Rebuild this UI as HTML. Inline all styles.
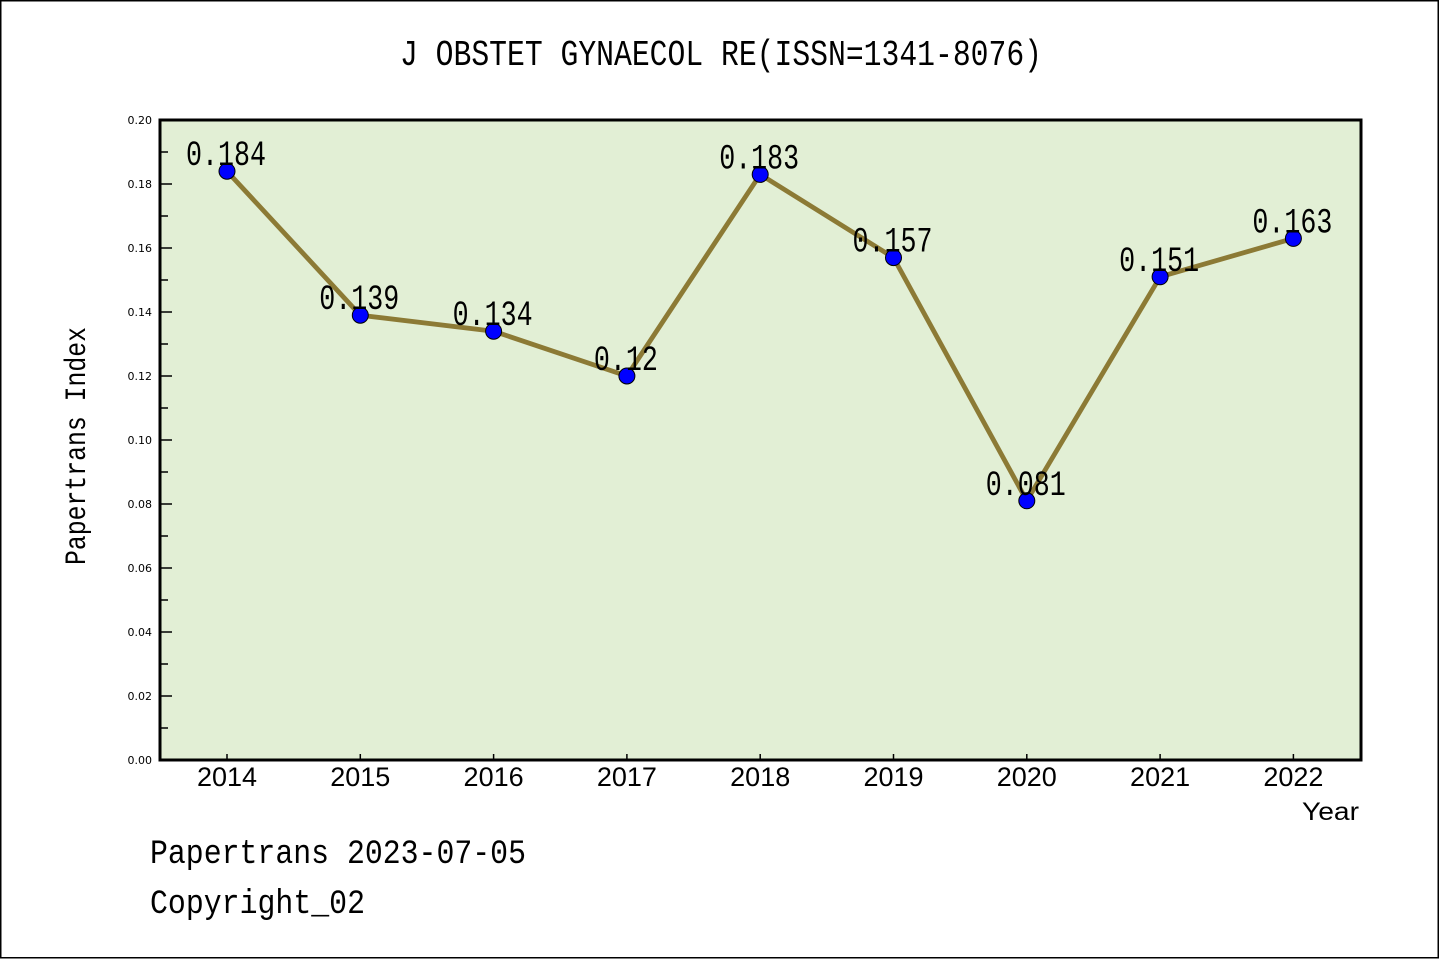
<!DOCTYPE html>
<html>
<head>
<meta charset="utf-8">
<style>
html,body{margin:0;padding:0;background:#fff;}
svg{display:block;}
</style>
</head>
<body>
<svg width="1440" height="960" viewBox="0 0 1440 960" xmlns="http://www.w3.org/2000/svg">
<rect x="0" y="0" width="1440" height="960" fill="#ffffff"/>
<rect x="0.75" y="0.75" width="1437.5" height="957" fill="none" stroke="#000" stroke-width="1.5"/>

<!-- title -->
<text x="400" y="65" font-family="Liberation Mono, monospace" font-size="36" textLength="642" lengthAdjust="spacingAndGlyphs" fill="#000">J OBSTET GYNAECOL RE(ISSN=1341-8076)</text>

<!-- plot background -->
<rect x="160" y="120" width="1201" height="640" fill="#e2efd5"/>

<!-- y ticks major -->
<g stroke="#000" stroke-width="1.5">
<line x1="160" y1="760" x2="172" y2="760"/>
<line x1="160" y1="696" x2="172" y2="696"/>
<line x1="160" y1="632" x2="172" y2="632"/>
<line x1="160" y1="568" x2="172" y2="568"/>
<line x1="160" y1="504" x2="172" y2="504"/>
<line x1="160" y1="440" x2="172" y2="440"/>
<line x1="160" y1="376" x2="172" y2="376"/>
<line x1="160" y1="312" x2="172" y2="312"/>
<line x1="160" y1="248" x2="172" y2="248"/>
<line x1="160" y1="184" x2="172" y2="184"/>
<line x1="160" y1="120" x2="172" y2="120"/>
<!-- minor -->
<line x1="160" y1="728" x2="168" y2="728"/>
<line x1="160" y1="664" x2="168" y2="664"/>
<line x1="160" y1="600" x2="168" y2="600"/>
<line x1="160" y1="536" x2="168" y2="536"/>
<line x1="160" y1="472" x2="168" y2="472"/>
<line x1="160" y1="408" x2="168" y2="408"/>
<line x1="160" y1="344" x2="168" y2="344"/>
<line x1="160" y1="280" x2="168" y2="280"/>
<line x1="160" y1="216" x2="168" y2="216"/>
<line x1="160" y1="152" x2="168" y2="152"/>
<!-- x ticks -->
<line x1="227" y1="760" x2="227" y2="754"/>
<line x1="360.3" y1="760" x2="360.3" y2="754"/>
<line x1="493.6" y1="760" x2="493.6" y2="754"/>
<line x1="626.9" y1="760" x2="626.9" y2="754"/>
<line x1="760.2" y1="760" x2="760.2" y2="754"/>
<line x1="893.5" y1="760" x2="893.5" y2="754"/>
<line x1="1026.8" y1="760" x2="1026.8" y2="754"/>
<line x1="1160.1" y1="760" x2="1160.1" y2="754"/>
<line x1="1293.4" y1="760" x2="1293.4" y2="754"/>
</g>

<!-- y tick labels -->
<g font-family="DejaVu Sans, sans-serif" font-size="11" fill="#000" text-anchor="end">
<text x="152" y="764">0.00</text>
<text x="152" y="700">0.02</text>
<text x="152" y="636">0.04</text>
<text x="152" y="572">0.06</text>
<text x="152" y="508">0.08</text>
<text x="152" y="444">0.10</text>
<text x="152" y="380">0.12</text>
<text x="152" y="316">0.14</text>
<text x="152" y="252">0.16</text>
<text x="152" y="188">0.18</text>
<text x="152" y="124">0.20</text>
</g>

<!-- x tick labels -->
<g font-family="Liberation Sans, sans-serif" font-size="27" fill="#000" text-anchor="middle">
<text x="227" y="786">2014</text>
<text x="360.3" y="786">2015</text>
<text x="493.6" y="786">2016</text>
<text x="626.9" y="786">2017</text>
<text x="760.2" y="786">2018</text>
<text x="893.5" y="786">2019</text>
<text x="1026.8" y="786">2020</text>
<text x="1160.1" y="786">2021</text>
<text x="1293.4" y="786">2022</text>
</g>

<!-- axis labels -->
<text x="1302" y="820" font-family="Liberation Sans, sans-serif" font-size="25" textLength="57" lengthAdjust="spacingAndGlyphs" fill="#000">Year</text>
<text transform="translate(85,565) rotate(-90)" x="0" y="0" font-family="Liberation Mono, monospace" font-size="30" textLength="238" lengthAdjust="spacingAndGlyphs" fill="#000">Papertrans Index</text>

<!-- series line -->
<polyline points="227,171.2 360.3,315.2 493.6,331.2 626.9,376 760.2,174.4 893.5,257.6 1026.8,500.8 1160.1,276.8 1293.4,238.4" fill="none" stroke="#8c7a35" stroke-width="4.8" stroke-linejoin="round"/>

<!-- markers -->
<g fill="#0000ff" stroke="#000" stroke-width="1">
<circle cx="227" cy="171.2" r="8"/>
<circle cx="360.3" cy="315.2" r="8"/>
<circle cx="493.6" cy="331.2" r="8"/>
<circle cx="626.9" cy="376" r="8"/>
<circle cx="760.2" cy="174.4" r="8"/>
<circle cx="893.5" cy="257.6" r="8"/>
<circle cx="1026.8" cy="500.8" r="8"/>
<circle cx="1160.1" cy="276.8" r="8"/>
<circle cx="1293.4" cy="238.4" r="8"/>
</g>

<!-- data labels -->
<g font-family="Liberation Mono, monospace" font-size="35" fill="#000" text-anchor="middle">
<text x="226" y="165.2" textLength="80" lengthAdjust="spacingAndGlyphs">0.184</text>
<text x="359.3" y="309.2" textLength="80" lengthAdjust="spacingAndGlyphs">0.139</text>
<text x="492.6" y="325.2" textLength="80" lengthAdjust="spacingAndGlyphs">0.134</text>
<text x="625.9" y="370" textLength="64" lengthAdjust="spacingAndGlyphs">0.12</text>
<text x="759.2" y="168.4" textLength="80" lengthAdjust="spacingAndGlyphs">0.183</text>
<text x="892.5" y="251.6" textLength="80" lengthAdjust="spacingAndGlyphs">0.157</text>
<text x="1025.8" y="494.8" textLength="80" lengthAdjust="spacingAndGlyphs">0.081</text>
<text x="1159.1" y="270.8" textLength="80" lengthAdjust="spacingAndGlyphs">0.151</text>
<text x="1292.4" y="232.4" textLength="80" lengthAdjust="spacingAndGlyphs">0.163</text>
</g>

<!-- frame -->
<rect x="160" y="120" width="1201" height="640" fill="none" stroke="#000" stroke-width="3"/>

<!-- footer -->
<text x="150" y="863" font-family="Liberation Mono, monospace" font-size="34" textLength="376" lengthAdjust="spacingAndGlyphs" fill="#000">Papertrans 2023-07-05</text>
<text x="150" y="913" font-family="Liberation Mono, monospace" font-size="34" textLength="215" lengthAdjust="spacingAndGlyphs" fill="#000">Copyright_02</text>
</svg>
</body>
</html>
